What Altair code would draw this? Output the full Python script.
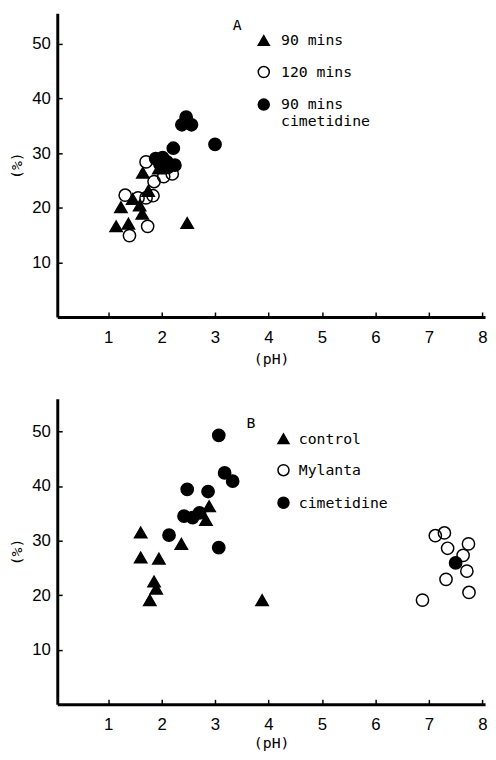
import altair as alt
import pandas as pd

# ---------------- Panel A ----------------
a_series = ["90 mins", "120 mins", "90 mins|cimetidine"]
a_tri_ph = [1.15, 1.38, 1.24, 1.46, 1.59, 1.64, 1.75, 1.65, 1.95, 2.48]
a_tri_pct = [16.6, 17.1, 20.1, 21.6, 20.4, 18.9, 23.1, 26.4, 27.2, 17.2]
a_open_ph = [1.71, 1.86, 2.04, 2.20, 1.32, 1.56, 1.71, 1.84, 1.74, 1.40]
a_open_pct = [28.4, 24.8, 25.7, 26.2, 22.3, 21.8, 21.8, 22.2, 16.6, 14.9]
a_fill_ph = [2.46, 2.38, 2.56, 3.00, 2.22, 1.89, 2.02, 2.10, 2.25, 1.97, 2.12]
a_fill_pct = [36.6, 35.2, 35.2, 31.6, 30.9, 29.0, 29.2, 28.4, 27.8, 28.0, 27.4]

# ---------------- Panel B ----------------
b_series = ["control", "Mylanta", "cimetidine"]
b_tri_ph = [1.61, 1.61, 1.95, 2.37, 2.83, 2.89, 1.86, 1.90, 1.78, 3.88]
b_tri_pct = [31.5, 26.9, 26.7, 29.4, 33.8, 36.3, 22.5, 21.2, 19.1, 19.1]
b_open_ph = [7.12, 7.29, 7.35, 7.74, 7.64, 7.71, 7.32, 7.75, 6.88]
b_open_pct = [30.9, 31.4, 28.6, 29.4, 27.3, 24.4, 22.9, 20.5, 19.1]
b_fill_ph = [3.07, 3.18, 3.33, 2.48, 2.87, 2.42, 2.58, 2.71, 2.14, 3.07, 7.50]
b_fill_pct = [49.3, 42.4, 40.9, 39.4, 39.0, 34.5, 34.2, 35.1, 31.0, 28.7, 25.9]

x_ticks = [1, 2, 3, 4, 5, 6, 7, 8]
y_ticks = [10, 20, 30, 40, 50]

shapes = ["triangle-up", "circle", "circle"]
fills = ["black", "transparent", "black"]
strokes = ["black", "black", "black"]


def frame(series, tri, opn, fil):
    rows = []
    for name, (xs, ys) in zip([series[1], series[0], series[2]], [opn, tri, fil]):
        for x, y in zip(xs, ys):
            rows.append({"ph": x, "pct": y, "series": name})
    return pd.DataFrame(rows)


MONO = "DejaVu Sans Mono"
SANS = "Liberation Sans"


def panel(df, series, letter, lx, ly, tpad, loff, height, ymax, xtp):
    xs = alt.Scale(domain=[0.05, 8.05], nice=False, zero=False)
    ys = alt.Scale(domain=[0, ymax], nice=False, zero=True)
    base = alt.Chart(df)
    frame_layer = base.mark_point(opacity=0).encode(
        x=alt.X("ph:Q", scale=xs, axis=alt.Axis(
            orient="bottom", domain=True, domainColor="black", domainWidth=3,
            ticks=False, labels=False, grid=False, title=None)),
        y=alt.Y("pct:Q", scale=ys, axis=alt.Axis(
            orient="left", domain=True, domainColor="black", domainWidth=3,
            ticks=False, labels=False, grid=False, title=None)),
    )
    leg = alt.Legend(
        title=letter, orient="none", legendX=lx, legendY=ly,
        titleOrient="left", titleAnchor="start", titleBaseline="bottom",
        titlePadding=tpad, titleFont=MONO, titleFontSize=15,
        titleFontWeight="normal", titleColor="black",
        labelFont=MONO, labelFontSize=15, labelColor="black",
        labelExpr="split(datum.label, '|')", labelBaseline="middle",
        labelOffset=loff, symbolSize=125, symbolStrokeWidth=1.5,
        rowPadding=14, padding=0,
    )
    pts = base.mark_point(filled=True, size=155, strokeWidth=1.5, opacity=1).encode(
        x=alt.X("ph:Q", scale=xs, axis=alt.Axis(
            orient="bottom", offset=-5, domain=False, values=x_ticks,
            tickSize=5, tickWidth=1.5, tickColor="black", labelPadding=13,
            labelFont=SANS, labelFontSize=17, labelColor="black", grid=False,
            title="(pH)", titleFont=MONO, titleFontSize=15,
            titleFontWeight="normal", titleColor="black", titlePadding=xtp)),
        y=alt.Y("pct:Q", scale=ys, axis=alt.Axis(
            orient="left", offset=-5, domain=False, values=y_ticks,
            tickSize=5, tickWidth=1.5, tickColor="black", labelPadding=7,
            labelFont=SANS, labelFontSize=17, labelColor="black", grid=False,
            title="(%)", titleFont=MONO, titleFontSize=15,
            titleFontWeight="normal", titleColor="black", titlePadding=7)),
        shape=alt.Shape("series:N", scale=alt.Scale(domain=series, range=shapes), legend=leg),
        fill=alt.Fill("series:N", scale=alt.Scale(domain=series, range=fills), legend=leg),
        stroke=alt.Stroke("series:N", scale=alt.Scale(domain=series, range=strokes), legend=leg),
    )
    return alt.layer(frame_layer, pts).resolve_axis(x="independent", y="independent").properties(
        width=434, height=height)


dfa = frame(a_series, (a_tri_ph, a_tri_pct), (a_open_ph, a_open_pct), (a_fill_ph, a_fill_pct))
dfb = frame(b_series, (b_tri_ph, b_tri_pct), (b_open_ph, b_open_pct), (b_fill_ph, b_fill_pct))

pa = panel(dfa, a_series, "A", 178, 20, 14, 10, 308, 55.6, 6)
pb = panel(dfb, b_series, "B", 192, 33, 20, 8, 310, 56, 3)

chart = alt.vconcat(pa, pb, spacing=33).resolve_scale(
    shape="independent", fill="independent", stroke="independent").properties(
    padding={"left": 2, "top": 0, "right": 0, "bottom": 0}).configure_view(stroke=None)

chart.save("out.html", embed_options={"renderer": "svg", "actions": False})
